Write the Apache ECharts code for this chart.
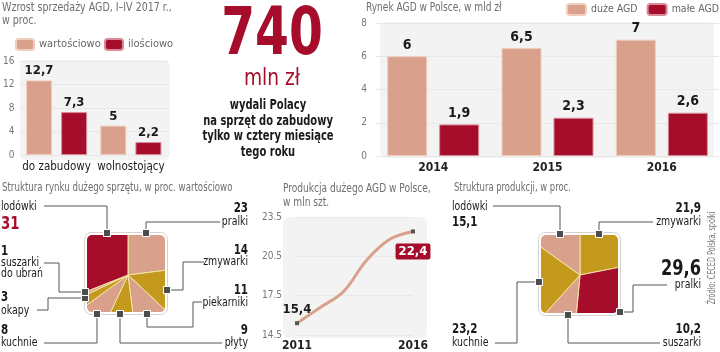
<!DOCTYPE html>
<html><head><meta charset="utf-8">
<script src="https://cdn.jsdelivr.net/npm/echarts@6/dist/echarts.min.js"></script>
<style>html,body{margin:0;padding:0;background:#fff}#c{width:720px;height:352px}</style>
</head><body><div id="c"></div>
<script>
// ---------------- DATA ----------------
const growthCategories = ['do zabudowy', 'wolnostojący'];
const growthByValue = [12.7, 5];
const growthByQuantity = [7.3, 2.2];
const growthSeriesNames = ['wartościowo', 'ilościowo'];

const marketYears = ['2014', '2015', '2016'];
const marketLarge = [6, 6.5, 7];
const marketSmall = [1.9, 2.3, 2.6];
const marketSeriesNames = ['duże AGD', 'małe AGD'];

const productionYears = ['2011', '2012', '2013', '2014', '2015', '2016'];
const productionValues = [15.4, 16.6, 17.8, 20.2, 21.8, 22.4];
const productionTicks = [14.5, 17.5, 20.5, 23.5];

const marketShareNames = ['pralki', 'zmywarki', 'piekarniki', 'płyty', 'kuchnie', 'okapy', 'suszarki do ubrań', 'lodówki'];
const marketShareValues = [23, 14, 11, 9, 8, 3, 1, 31];

const productionShareNames = ['zmywarki', 'pralki', 'suszarki', 'kuchnie', 'lodówki'];
const productionShareValues = [21.9, 29.6, 10.2, 23.2, 15.1];

const headlineValue = 740;

// ---------------- STYLE ----------------
const PINK = '#d9a08b', RED = '#a50d2b', GOLD = '#c39a1d';
const PINK_B = '#f0cdbf', RED_B = '#d98a98';
const F = "'DejaVu Sans Condensed','Liberation Sans',Roboto,sans-serif";
const TITLE = '#6e6e6e', INK = '#1a1a1a';
const fmt = v => String(v).replace('.', ',');

const marketSharePalette = [PINK, GOLD, PINK, GOLD, PINK, GOLD, PINK, RED];
const productionSharePalette = [GOLD, RED, PINK, GOLD, PINK];

// annotation layout (positions only)
const marketShareLayout = [
  {side: 'right', x: 248, vy: 208, ny: 222, line: [[220,222],[146,222],[146,233]]},
  {side: 'right', x: 248, vy: 250, ny: 262, line: [[204,262],[183,262],[183,290],[167,290]]},
  {side: 'right', x: 248, vy: 290, ny: 303, line: [[202,302],[193,302],[193,327],[147,327],[147,314]]},
  {side: 'right', x: 248, vy: 330, ny: 343, line: [[222,343],[120,343],[120,314]]},
  {side: 'left', x: 1, vy: 330, ny: 343, line: [[44,343],[97,343],[97,314]]},
  {side: 'left', x: 1, vy: 297, ny: 311, line: [[37,310],[48,310],[48,298],[85,298]]},
  {side: 'left', x: 1, vy: 251, ny: 268.5, wrap: true, line: [[44,263],[59,263],[59,292],[85,292]]},
  {side: 'left', x: 1, vy: 224, ny: 207, big: 18, color: RED, line: [[44,206],[107,206],[107,233]]}
];
const productionShareLayout = [
  {side: 'right', x: 701, vy: 208, ny: 222, line: [[653,222],[599,222],[599,234]]},
  {side: 'right', x: 701, vy: 269, ny: 285, big: 22, line: [[667,285],[633,285],[633,312],[620,312]]},
  {side: 'right', x: 701, vy: 329, ny: 343, line: [[660,343],[568,343],[568,315]]},
  {side: 'left', x: 452, vy: 329, ny: 343, line: [[495,343],[517,343],[517,282],[539,282]]},
  {side: 'left', x: 452, vy: 222, ny: 207, line: [[493,206],[560,206],[560,234]]}
];

const graphics = [];
function txt(x, y, text, o) {
  graphics.push({type: 'text', x, y, z: 100, silent: true, rotation: o.rot || 0, scaleX: o.sx || 1,
    style: {text, fill: o.fill || INK, font: o.font, align: o.align || 'left', verticalAlign: 'middle', lineHeight: o.lh}});
}
function bg(x, y, w, h) {
  graphics.push({type: 'rect', z: -10, silent: true, shape: {x, y, width: w, height: h, r: 6}, style: {fill: '#f3f3f3'}});
}
function maskRect(x, y, w, h) {
  graphics.push({type: 'rect', z: 50, silent: true, shape: {x, y, width: w, height: h}, style: {fill: '#fff'}});
}
function maskCorner(cx0, cy0, sx, sy, q) {
  const pts = [[cx0, cy0], [cx0 + sx * q, cy0]];
  for (let k = 0; k <= 8; k++) {
    const a = (Math.PI / 2) * k / 8;
    pts.push([cx0 + sx * q - sx * q * Math.sin(a), cy0 + sy * q - sy * q * Math.cos(a)]);
  }
  pts.push([cx0, cy0 + sy * q]);
  graphics.push({type: 'polygon', z: 50, silent: true, shape: {points: pts}, style: {fill: '#fff'}});
}
function squarePie(cx, cy, l, t, r, b) {
  const R = 74, q = 5, L = l + 2, T = t + 2, Rr = r - 2, B = b - 2;
  maskRect(cx - R, cy - R, 2 * R, T - (cy - R));
  maskRect(cx - R, B, 2 * R, cy + R - B);
  maskRect(cx - R, T, L - (cx - R), B - T);
  maskRect(Rr, T, cx + R - Rr, B - T);
  maskCorner(L, T, 1, 1, q);
  maskCorner(Rr, T, -1, 1, q);
  maskCorner(L, B, 1, -1, q);
  maskCorner(Rr, B, -1, -1, q);
  graphics.push({type: 'rect', z: 51, silent: true, shape: {x: l - 0.5, y: t - 0.5, width: r - l + 1, height: b - t + 1, r: 7}, style: {fill: 'none', stroke: '#d6cfcc', lineWidth: 1}});
}
function annotate(names, values, layout) {
  layout.forEach((a, i) => {
    const name = a.wrap ? names[i].replace(' do ', '\ndo ') : names[i];
    txt(a.x, a.ny, name, {font: `13px ${F}`, align: a.side, lh: 11, sx: 0.8});
    txt(a.x, a.vy, fmt(values[i]), {font: `bold ${a.big || 14}px ${F}`, align: a.side, fill: a.color || INK, sx: 0.82});
    graphics.push({type: 'polyline', z: 90, silent: true, shape: {points: a.line}, style: {stroke: '#555', lineWidth: 1, fill: null}});
    const p = a.line[a.line.length - 1];
    graphics.push({type: 'rect', z: 95, silent: true, shape: {x: p[0] - 3.5, y: p[1] - 3.5, width: 7, height: 7}, style: {fill: '#4d4d4d', stroke: '#fff', lineWidth: 1}});
  });
}

// backgrounds
bg(20, 60, 150, 100);
bg(380, 22, 334, 136);
bg(283, 217, 144, 121);
squarePie(128, 275, 85, 233, 167, 314);
squarePie(580, 275, 539, 233, 620, 315);
annotate(marketShareNames, marketShareValues, marketShareLayout);
annotate(productionShareNames, productionShareValues, productionShareLayout);

// titles
const tt = {font: `12px ${F}`, fill: TITLE, sx: 0.84};
txt(2, 14, 'Wzrost sprzedaży AGD, I–IV 2017 r.,\nw proc.', Object.assign({lh: 13}, tt, {sx: 0.88}));
txt(366, 8, 'Rynek AGD w Polsce, w mld zł', tt);
txt(2, 188, 'Struktura rynku dużego sprzętu, w proc. wartościowo', Object.assign({}, tt, {sx: 0.8}));
txt(283, 196, 'Produkcja dużego AGD w Polsce,\nw mln szt.', Object.assign({lh: 14}, tt));
txt(454, 188, 'Struktura produkcji, w proc.', Object.assign({}, tt, {sx: 0.78}));
txt(712, 258, 'Źródło: CECED Polska, spółki', {font: `10px ${F}`, fill: '#777', align: 'center', rot: Math.PI / 2, sx: 0.72});
// headline
txt(272, 37, String(headlineValue), {font: `bold 66px ${F}`, fill: RED, align: 'center', sx: 0.82});
txt(272, 79, 'mln zł', {font: `23px ${F}`, fill: RED, align: 'center', sx: 0.9});
txt(268, 129, 'wydali Polacy\nna sprzęt do zabudowy\ntylko w cztery miesiące\ntego roku', {font: `bold 14px ${F}`, fill: INK, align: 'center', lh: 15.5, sx: 0.79});

const valueLabel = {show: true, position: 'top', distance: 3, formatter: p => fmt(p.value), fontFamily: F, fontWeight: 'bold', fontSize: 13, color: INK};
const yLab = {fontSize: 10, color: '#777', fontFamily: F};
const legendBase = {top: 38, padding: 0, itemWidth: 18, itemHeight: 11, textStyle: {fontSize: 11, color: '#666', fontFamily: F}, selectedMode: false};
const legendB = {top: 3, itemWidth: 19, textStyle: {fontSize: 10.5, color: '#666', fontFamily: F}};

const option = {
  animation: false,
  textStyle: {fontFamily: F},
  legend: [
    Object.assign({}, legendBase, {data: [growthSeriesNames[0]], left: 15}),
    Object.assign({}, legendBase, {data: [growthSeriesNames[1]], left: 104}),
    Object.assign({}, legendBase, legendB, {data: [marketSeriesNames[0]], left: 566}),
    Object.assign({}, legendBase, legendB, {data: [marketSeriesNames[1]], right: 1})
  ],
  grid: [
    {left: 15, width: 153, top: 61, height: 94},
    {left: 376, right: 1, top: 23, height: 133},
    {left: 297, width: 116, top: 217, height: 121}
  ],
  xAxis: [
    {gridIndex: 0, type: 'category', data: growthCategories, axisLine: {show: false}, axisTick: {show: false}, axisLabel: {fontSize: 11.5, color: INK, margin: 6, interval: 0}},
    {gridIndex: 1, type: 'category', data: marketYears, axisLine: {show: false}, axisTick: {show: false}, axisLabel: {fontSize: 12, color: '#222', margin: 6, fontWeight: 'bold'}},
    {gridIndex: 2, type: 'category', data: productionYears, boundaryGap: false, axisLine: {show: false}, axisTick: {show: false},
      axisLabel: {fontSize: 12, color: '#222', margin: 5, fontWeight: 'bold', interval: (i) => i === 0 || i === productionYears.length - 1}}
  ],
  yAxis: [
    {gridIndex: 0, type: 'value', min: 0, max: 16, interval: 4, axisLabel: Object.assign({margin: 5}, yLab), splitLine: {lineStyle: {color: '#e8e8e8'}}},
    {gridIndex: 1, type: 'value', min: 0, max: 8, interval: 2, axisLabel: Object.assign({margin: 9}, yLab), splitLine: {lineStyle: {color: '#e8e8e8'}}},
    {gridIndex: 2, type: 'value', min: productionTicks[0], max: productionTicks[productionTicks.length - 1],
      axisLabel: Object.assign({margin: 15, customValues: productionTicks}, yLab), axisTick: {show: false, customValues: productionTicks}, splitLine: {lineStyle: {color: '#e8e8e8'}}}
  ],
  series: [
    {type: 'bar', name: growthSeriesNames[0], xAxisIndex: 0, yAxisIndex: 0, data: growthByValue, barWidth: 26, barGap: '35%', itemStyle: {color: PINK, borderColor: PINK_B, borderWidth: 1}, label: valueLabel, silent: true},
    {type: 'bar', name: growthSeriesNames[1], xAxisIndex: 0, yAxisIndex: 0, data: growthByQuantity, barWidth: 26, barGap: '35%', itemStyle: {color: RED, borderColor: RED_B, borderWidth: 1}, label: valueLabel, silent: true},
    {type: 'bar', name: marketSeriesNames[0], xAxisIndex: 1, yAxisIndex: 1, data: marketLarge, barWidth: 40, barGap: '30%', itemStyle: {color: PINK, borderColor: PINK_B, borderWidth: 1}, label: Object.assign({}, valueLabel, {distance: 4, fontSize: 14}), silent: true},
    {type: 'bar', name: marketSeriesNames[1], xAxisIndex: 1, yAxisIndex: 1, data: marketSmall, barWidth: 40, barGap: '30%', itemStyle: {color: RED, borderColor: RED_B, borderWidth: 1}, label: Object.assign({}, valueLabel, {distance: 4, fontSize: 14}), silent: true},
    {type: 'line', xAxisIndex: 2, yAxisIndex: 2, smooth: 0.35, silent: true,
      lineStyle: {color: PINK, width: 3},
      symbol: (v, p) => (p.dataIndex === 0 || p.dataIndex === productionValues.length - 1) ? 'rect' : 'none',
      symbolSize: 4, itemStyle: {color: '#555'},
      label: {show: true, formatter: p => (p.dataIndex === 0 || p.dataIndex === productionValues.length - 1) ? fmt(p.value) : '', fontFamily: F, fontWeight: 'bold', fontSize: 13, color: INK, position: 'top', distance: 5},
      data: productionValues.map((v, i) => i === productionValues.length - 1 ?
        {value: v, label: {position: 'bottom', distance: 10, color: '#fff', backgroundColor: RED, padding: [2, 3, 1, 3], borderRadius: 2}} : v)
    },
    {type: 'pie', center: [128, 275], radius: 68, startAngle: 90, clockwise: true, silent: true, label: {show: false}, labelLine: {show: false},
      itemStyle: {borderColor: '#f4e4a4', borderWidth: 1},
      data: marketShareValues.map((v, i) => ({name: marketShareNames[i], value: v, itemStyle: {color: marketSharePalette[i]}}))},
    {type: 'pie', center: [580, 275], radius: 68, startAngle: 90, clockwise: true, silent: true, label: {show: false}, labelLine: {show: false},
      itemStyle: {borderColor: '#f4e4a4', borderWidth: 1},
      data: productionShareValues.map((v, i) => ({name: productionShareNames[i], value: v, itemStyle: {color: productionSharePalette[i]}}))}
  ],
  graphic: {elements: graphics}
};
const chart = echarts.init(document.getElementById('c'), null, {renderer: 'canvas'});
chart.setOption(option);
</script></body></html>
